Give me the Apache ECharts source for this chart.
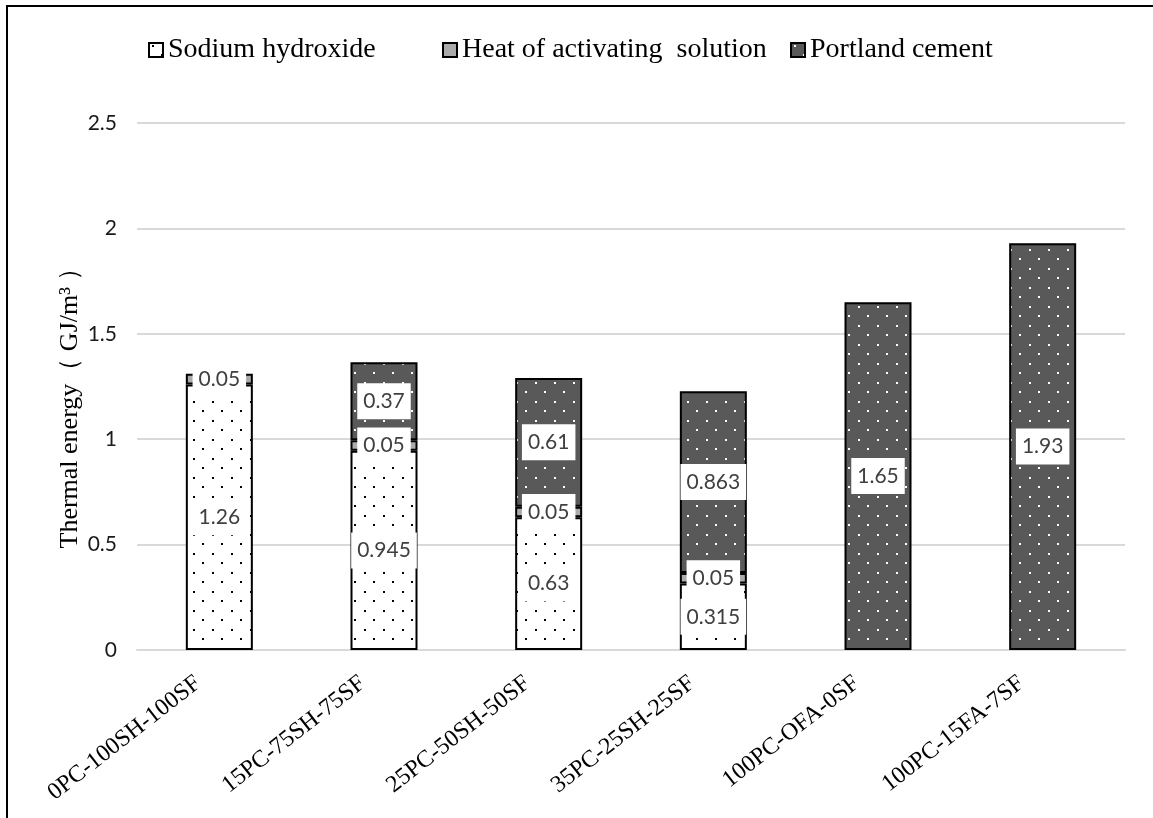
<!DOCTYPE html>
<html>
<head>
<meta charset="utf-8">
<title>Thermal energy</title>
<script src="https://cdn.jsdelivr.net/npm/echarts@6/dist/echarts.min.js"></script>
<style>
  html, body { margin: 0; padding: 0; background: #fff; }
  #chart { width: 1153px; height: 818px; }
</style>
</head>
<body>
<div id="chart"></div>
<script>
// Mix designs along the x axis
const categories = ['0PC-100SH-100SF', '15PC-75SH-75SF', '25PC-50SH-50SF', '35PC-25SH-25SF', '100PC-OFA-0SF', '100PC-15FA-7SF'];
// Thermal energy contributions, GJ/m3
const sodiumHydroxide = [1.26, 0.945, 0.63, 0.315, null, null];
const heatOfSolution = [0.05, 0.05, 0.05, 0.05, null, null];
const portlandCement = [null, 0.37, 0.61, 0.863, 1.65, 1.93];
// Value axis ticks
const yMin = 0, yMax = 2.5, yStep = 0.5;

// Staggered dot fill used inside the bars
function dotPattern(bg, dot) {
  const c = document.createElement('canvas');
  c.width = 19; c.height = 19;
  const ctx = c.getContext('2d');
  ctx.fillStyle = bg;
  ctx.fillRect(0, 0, 19, 19);
  ctx.fillStyle = dot;
  ctx.fillRect(3, 2, 2, 2);
  ctx.fillRect(12, 11, 2, 2);
  return { image: c, repeat: 'repeat' };
}

const labelStyle = {
  show: true,
  position: 'inside',
  color: '#404040',
  fontFamily: 'Lato',
  fontSize: 21,
  backgroundColor: '#ffffff',
  padding: [8, 6, 7, 6]
};

const barBase = {
  type: 'bar',
  stack: 'total',
  barWidth: 67,
  label: labelStyle
};

const chart = echarts.init(document.getElementById('chart'), null, { renderer: 'canvas' });

function legendAt(name, left) {
  return {
    data: [name], left: left, top: 36, icon: 'rect',
    itemWidth: 14, itemHeight: 14, itemGap: 4,
    textStyle: { fontFamily: 'Liberation Serif', fontSize: 28, color: '#000' },
    padding: 0
  };
}

chart.setOption({
  backgroundColor: '#ffffff',
  animation: false,
  graphic: [{
    type: 'rect',
    shape: { x: 7, y: 6, width: 1200, height: 900 },
    style: { fill: null, stroke: '#000', lineWidth: 2 },
    silent: true
  }],
  legend: [
    legendAt('Sodium hydroxide', 148),
    legendAt('Heat of activating  solution', 442),
    legendAt('Portland cement', 790)
  ],
  grid: { left: 137, right: 28, top: 123, bottom: 168 },
  xAxis: {
    type: 'category',
    data: categories,
    axisLine: { lineStyle: { color: '#d9d9d9', width: 2 } },
    axisTick: { show: false },
    axisLabel: {
      interval: 0, rotate: 38, margin: 14,
      padding: [0, 27, 0, 0],
      fontFamily: 'Liberation Serif', fontSize: 24, color: '#000'
    }
  },
  yAxis: {
    type: 'value',
    min: yMin, max: yMax, interval: yStep,
    axisLine: { show: false },
    axisTick: { show: false },
    splitLine: { lineStyle: { color: '#d9d9d9', width: 2 } },
    axisLabel: { margin: 20, fontFamily: 'Lato', fontSize: 21, color: '#1a1a1a' },
    name: 'Thermal energy（ GJ/m³ ）',
    nameLocation: 'middle',
    nameGap: 54,
    nameMoveOverlap: false,
    nameTextStyle: { fontFamily: 'Liberation Serif', fontSize: 26, color: '#000', padding: [0, 30, 0, 0] }
  },
  series: [
    Object.assign({}, barBase, {
      name: 'Sodium hydroxide',
      data: sodiumHydroxide,
      itemStyle: { color: dotPattern('#ffffff', '#000000'), borderColor: '#000', borderWidth: 2 }
    }),
    Object.assign({}, barBase, {
      name: 'Heat of activating  solution',
      data: heatOfSolution,
      itemStyle: { color: '#ababab', borderColor: '#000', borderWidth: 2 }
    }),
    Object.assign({}, barBase, {
      name: 'Portland cement',
      data: portlandCement,
      itemStyle: { color: dotPattern('#595959', '#ffffff'), borderColor: '#000', borderWidth: 2 }
    })
  ]
});
</script>
</body>
</html>
